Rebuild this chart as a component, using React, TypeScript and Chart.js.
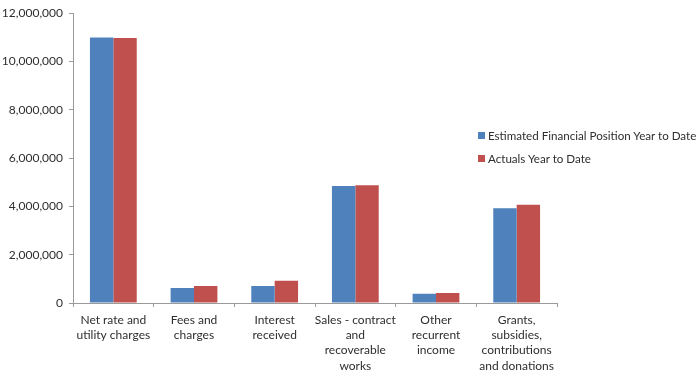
import React, { useEffect, useRef } from "react";
import { Chart, registerables } from "chart.js";

Chart.register(...registerables);

const categories: string[][] = [
  ["Net rate and", "utility charges"],
  ["Fees and", "charges"],
  ["Interest", "received"],
  ["Sales - contract", "and", "recoverable", "works"],
  ["Other", "recurrent", "income"],
  ["Grants,", "subsidies,", "contributions", "and donations"],
];

const estimatedLabel = "Estimated Financial Position Year to Date";
const actualsLabel = "Actuals Year to Date";

const estimatedValues = [10990000, 620000, 700000, 4840000, 380000, 3920000];
const actualValues = [10970000, 700000, 920000, 4880000, 410000, 4070000];

const yMin = 0;
const yMax = 12000000;
const yStep = 2000000;

const BLUE = "#4F81BD";
const RED = "#C0504D";
const TEXT = "#2e2e2e";
const AXIS = "#9a9a9a";
const FONT = "Lato, 'Liberation Sans', sans-serif";

export default function App() {
  const ref = useRef<HTMLCanvasElement | null>(null);

  useEffect(() => {
    if (!ref.current) return;
    const chart = new Chart(ref.current, {
      type: "bar",
      data: {
        labels: categories,
        datasets: [
          {
            label: estimatedLabel,
            data: estimatedValues,
            backgroundColor: BLUE,
            borderWidth: 0,
            categoryPercentage: 0.58,
            barPercentage: 1.0,
          },
          {
            label: actualsLabel,
            data: actualValues,
            backgroundColor: RED,
            borderWidth: 0,
            categoryPercentage: 0.58,
            barPercentage: 1.0,
          },
        ],
      },
      options: {
        responsive: false,
        animation: false,
        devicePixelRatio: 1,
        layout: { padding: { top: 12, right: 141, bottom: 0, left: 0 } },
        plugins: {
          legend: { display: false },
          tooltip: { enabled: false },
        },
        scales: {
          x: {
            afterFit: (s: any) => {
              s.height = 86;
            },
            grid: {
              drawOnChartArea: false,
              drawTicks: true,
              tickLength: 4,
              color: AXIS,
              offset: true,
            },
            border: { color: AXIS },
            ticks: {
              color: TEXT,
              padding: 5,
              maxRotation: 0,
              autoSkip: false,
              font: { family: FONT, size: 12, lineHeight: 1.28 },
            },
          },
          y: {
            min: yMin,
            max: yMax,
            afterFit: (s: any) => {
              s.width = 73;
            },
            grid: {
              drawOnChartArea: false,
              drawTicks: true,
              tickLength: 4,
              color: AXIS,
            },
            border: { color: AXIS },
            ticks: {
              stepSize: yStep,
              color: TEXT,
              padding: 6,
              font: { family: FONT, size: 12 },
              callback: (v: any) => Number(v).toLocaleString("en-US"),
            },
          },
        },
      },
    });
    return () => chart.destroy();
  }, []);

  const legendItems = [
    { label: estimatedLabel, color: BLUE },
    { label: actualsLabel, color: RED },
  ];

  return (
    <div
      style={{
        position: "absolute",
        left: 0,
        top: 0,
        width: 698,
        height: 389,
        background: "#fff",
      }}
    >
      <canvas ref={ref} width={698} height={389} style={{ display: "block" }} />
      <div
        style={{
          position: "absolute",
          left: 478,
          top: 127,
          fontFamily: FONT,
          fontSize: 11.6,
          color: TEXT,
        }}
      >
        {legendItems.map((it) => (
          <div
            key={it.label}
            style={{
              display: "flex",
              alignItems: "center",
              height: 17,
              marginBottom: 5.5,
              whiteSpace: "nowrap",
            }}
          >
            <span
              style={{
                display: "inline-block",
                width: 7,
                height: 7,
                background: it.color,
                marginRight: 3,
              }}
            />
            <span>{it.label}</span>
          </div>
        ))}
      </div>
    </div>
  );
}
